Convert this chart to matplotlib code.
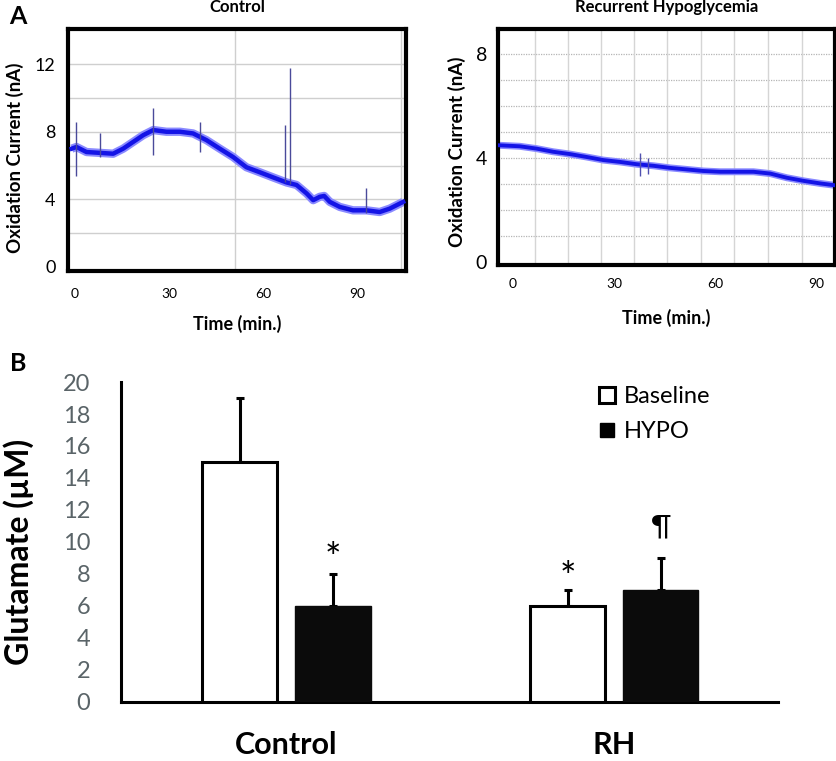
import numpy as np
import matplotlib
matplotlib.use("Agg")
import matplotlib.pyplot as plt
from matplotlib.lines import Line2D

plt.rcParams['font.family'] = ['Lato', 'DejaVu Sans']

# ---- datos panel A ----
ctrl_t = [-1, 0.5, 3.7, 8, 12.2, 15.4, 18.6, 21.8, 25, 29.2, 33.5, 37.7, 42, 46.2,
          50.5, 54.7, 59, 63.2, 67.5, 70.7, 73.9, 76, 78.1, 79.5, 81.3, 84.5, 88.7,
          93, 97.2, 100.4, 104.7]
ctrl_v = [7.0, 7.1, 6.8, 6.75, 6.7, 7.0, 7.4, 7.8, 8.1, 8.0, 8.0, 7.9, 7.5, 7.0,
          6.5, 5.9, 5.6, 5.3, 5.0, 4.85, 4.35, 3.95, 4.15, 4.2, 3.85, 3.55, 3.35,
          3.35, 3.25, 3.45, 3.85]
# picos: tiempo, minimo, maximo
ctrl_spk_t = [0.5, 8, 25, 40, 67, 68.5, 93]
ctrl_spk_lo = [5.4, 6.5, 6.6, 6.8, 5.0, 4.9, 3.2]
ctrl_spk_hi = [8.6, 7.9, 9.4, 8.6, 8.4, 11.8, 4.7]

rh_t = [-4.4, 2, 7, 11.9, 16.9, 21.8, 26.8, 31.7, 36.7, 41.7, 46.6, 51.6, 56.5,
        61.5, 66.5, 71.4, 76.4, 81.3, 86.3, 91.3, 95.6]
rh_v = [4.49, 4.45, 4.36, 4.24, 4.15, 4.04, 3.92, 3.85, 3.76, 3.70, 3.62, 3.56,
        3.50, 3.47, 3.47, 3.47, 3.40, 3.24, 3.12, 3.02, 2.95]
rh_spk_t = [37.7, 40]
rh_spk_lo = [3.3, 3.4]
rh_spk_hi = [4.2, 4.0]

ctrl_vgrid = [51, 104]
rh_vgrid = [6.5, 16.3, 26.1, 35.9, 45.8, 55.9, 65.6, 75.6, 85.7]

# ---- datos panel B ----
grupos = ['Control', 'RH']
baseline = [15, 6]
baseline_err = [4, 1]
hypo = [6, 7]
hypo_err = [2, 2]

W, H = 837, 761
fig = plt.figure(figsize=(W / 100, H / 100), dpi=100)

def px_axes(l, t, r, b):
    return fig.add_axes([l / W, (H - b) / H, (r - l) / W, (b - t) / H])

# ---- panel A izquierda ----
ax1 = px_axes(68, 29, 406, 271)
ax1.set_xlim(-2.2, 105.6)
ax1.set_ylim(-0.24, 14.08)
for yv in [2, 4, 6, 8, 10, 12]:
    ax1.axhline(yv, color='#cfcfcf', lw=1, zorder=0)
for xv in ctrl_vgrid:
    ax1.axvline(xv, color='#cfcfcf', lw=1, zorder=0)
ax1.plot(ctrl_t, ctrl_v, color='#8a8aff', lw=6, solid_capstyle='butt', zorder=2)
ax1.plot(ctrl_t, ctrl_v, color='#1414e6', lw=3.2, zorder=3)
ax1.vlines(ctrl_spk_t, ctrl_spk_lo, ctrl_spk_hi, color='#4a4a9a', lw=1, zorder=4)
ax1.set_yticks([0, 4, 8, 12])
ax1.set_xticks([0, 30, 60, 90])
ax1.tick_params(axis='y', length=0, pad=9, labelsize=13)
ax1.tick_params(axis='x', length=0, pad=12, labelsize=10)
for s in ax1.spines.values():
    s.set_linewidth(3)
ax1.set_title('Control', fontsize=12, fontweight='bold', pad=12)
ax1.set_xlabel('Time (min.)', fontsize=13, fontweight='bold', labelpad=11)
ax1.set_ylabel('Oxidation Current (nA)', fontsize=13.5, fontweight='bold')
ax1.yaxis.set_label_coords((24 - 68) / 338, 0.47)

# ---- panel A derecha ----
ax2 = px_axes(498, 29, 835, 265)
ax2.set_xlim(-4.45, 95.6)
ax2.set_ylim(-0.115, 8.96)
for yv in range(1, 9):
    ax2.axhline(yv, color='#b5b5b5', lw=0.9, ls=(0, (1, 1)), zorder=0)
for xv in rh_vgrid:
    ax2.axvline(xv, color='#d5d5d5', lw=1, zorder=0)
ax2.plot(rh_t, rh_v, color='#8a8aff', lw=5, solid_capstyle='butt', zorder=2)
ax2.plot(rh_t, rh_v, color='#1414e6', lw=2.8, zorder=3)
ax2.vlines(rh_spk_t, rh_spk_lo, rh_spk_hi, color='#5050b0', lw=1, zorder=4)
ax2.set_yticks([0, 4, 8])
ax2.set_xticks([0, 30, 60, 90])
ax2.tick_params(axis='y', length=0, pad=8, labelsize=14)
ax2.tick_params(axis='x', length=0, pad=9, labelsize=10)
for s in ax2.spines.values():
    s.set_linewidth(3)
ax2.set_title('Recurrent Hypoglycemia', fontsize=12, fontweight='bold', pad=12)
ax2.set_xlabel('Time (min.)', fontsize=13, fontweight='bold', labelpad=14)
ax2.set_ylabel('Oxidation Current (nA)', fontsize=13.5, fontweight='bold')
ax2.yaxis.set_label_coords((466 - 498) / 337, 0.48)

fig.text(18 / W, 1 - 17 / H, 'A', fontsize=18, fontweight='bold', ha='center', va='center')
fig.text(18 / W, 1 - 364 / H, 'B', fontsize=18, fontweight='bold', ha='center', va='center')

# ---- panel B ----
ax3 = px_axes(121, 382, 778, 702)
x = np.arange(len(grupos))
off, bw = 0.142, 0.229
ax3.bar(x - off, baseline, bw, color='white', edgecolor='black', linewidth=2.2, zorder=3)
ax3.bar(x + off, hypo, bw, color='#0b0b0b', edgecolor='#0b0b0b', linewidth=1, zorder=3)
ax3.errorbar(x - off, baseline, yerr=[[0, 0], baseline_err], fmt='none', ecolor='black',
             elinewidth=2.2, capsize=3, capthick=2.2, zorder=2)
ax3.errorbar(x + off, hypo, yerr=[[0, 0], hypo_err], fmt='none', ecolor='black',
             elinewidth=2.2, capsize=3, capthick=2.2, zorder=2)
ax3.set_xlim(-0.505, 1.50)
ax3.set_ylim(0, 20)
ax3.set_yticks(range(0, 21, 2))
ax3.set_xticks(x)
ax3.set_xticklabels(grupos, fontsize=22, fontweight='bold')
ax3.tick_params(axis='x', length=0, pad=21)
ax3.tick_params(axis='y', length=0, pad=22, labelsize=17, labelcolor='#5a6468')
for s in ['top', 'right']:
    ax3.spines[s].set_visible(False)
ax3.spines['left'].set_linewidth(2.2)
ax3.spines['bottom'].set_linewidth(2.2)
ax3.set_ylabel('Glutamate (\u00b5M)', fontsize=23, fontweight='bold')
ax3.yaxis.set_label_coords((34 - 121) / 657, 0.47)

ax3.text(0 + off, 8.9, '*', fontsize=28, ha='center', va='center')
ax3.text(1 - off, 7.7, '*', fontsize=28, ha='center', va='center')
ax3.text(1 + off, 10.9, '\u00b6', fontsize=21, ha='center', va='center')

handles = [Line2D([], [], ls='none', marker='s', markersize=11, markerfacecolor='white',
                  markeredgecolor='black', markeredgewidth=2.2),
           Line2D([], [], ls='none', marker='s', markersize=10, markerfacecolor='black',
                  markeredgecolor='black')]
fig.legend(handles, ['Baseline', 'HYPO'], loc='upper left', bbox_to_anchor=(598 / W, 1 - 386 / H),
           frameon=False, fontsize=17, handlelength=0.8, handletextpad=0.3,
           labelspacing=0.6, borderpad=0, borderaxespad=0)

fig.savefig('out.png', dpi=100)
